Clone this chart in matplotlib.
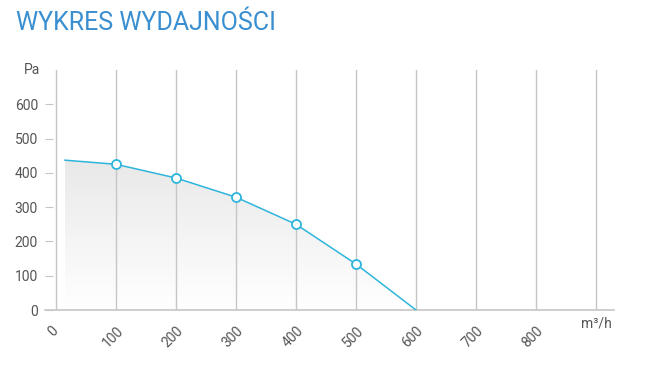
import numpy as np
import matplotlib.pyplot as plt
import matplotlib.transforms as mtrans
from matplotlib.patches import Polygon

flow = [15, 100, 200, 300, 400, 500, 600]
pressure = [437, 425, 385, 329, 250, 134, 0]
marked = [100, 200, 300, 400, 500]
marked_p = [425, 385, 329, 250, 134]
x_ticks = [0, 100, 200, 300, 400, 500, 600, 700, 800]
y_ticks = [0, 100, 200, 300, 400, 500, 600]

plt.rcParams['font.family'] = ['Roboto', 'DejaVu Sans']

fig = plt.figure(figsize=(6.54, 3.78), dpi=100)
ax = fig.add_axes([45 / 654, 68 / 378, 569 / 654, 240 / 378])
ax.set_xlim(-18.3, 930)
ax.set_ylim(0, 700)

grid_c = '#c6c6c6'
for x in x_ticks + [900]:
    ax.axvline(x, color=grid_c, lw=1, zorder=2)
ax.axhline(0, color=grid_c, lw=1.2, zorder=2, clip_on=False)

# gradient fill under the curve, darker near the line
verts = list(zip(flow, pressure)) + [(600, 0), (15, 0)]
poly = Polygon(verts, closed=True, facecolor='none', edgecolor='none')
ax.add_patch(poly)
grad = np.linspace(0.91, 1.0, 256).reshape(-1, 1)
grad = np.hstack([grad, grad])
img = ax.imshow(np.dstack([grad, grad, grad]), extent=[15, 600, 0, 450],
                origin='upper', aspect='auto', zorder=1)
img.set_clip_path(poly)

c = '#2fb5dc'
ax.plot(flow, pressure, color=c, lw=1.1, zorder=3)
ax.plot(marked, marked_p, 'o', ms=6.5, mfc='white', mec=c, mew=1.3, zorder=4)

for s in ax.spines.values():
    s.set_visible(False)
ax.set_yticks(y_ticks)
ax.set_yticklabels([str(v) for v in y_ticks])
ax.tick_params(axis='y', direction='in', length=6, color=grid_c, pad=5,
               labelsize=10, labelcolor='#555555')
ax.set_xticks(x_ticks)
ax.set_xticklabels([str(v) for v in x_ticks], rotation=45, ha='center')
ax.tick_params(axis='x', length=0, pad=10, labelsize=10, labelcolor='#555555')
shift = mtrans.ScaledTranslation(-3 / 100, 0, fig.dpi_scale_trans)
for lab in ax.get_xticklabels():
    lab.set_transform(lab.get_transform() + shift)
ax.text(-27, 700, 'Pa', ha='right', va='center', fontsize=10, color='#555555')
ax.text(900, -20, 'm³/h', ha='center', va='top', fontsize=10, color='#555555')

fig.text(16 / 654, 1 - 23 / 378, 'WYKRES WYDAJNOŚCI', ha='left', va='center',
         fontsize=18, color='#3a8fd0')

fig.savefig('out.png', dpi=100)
